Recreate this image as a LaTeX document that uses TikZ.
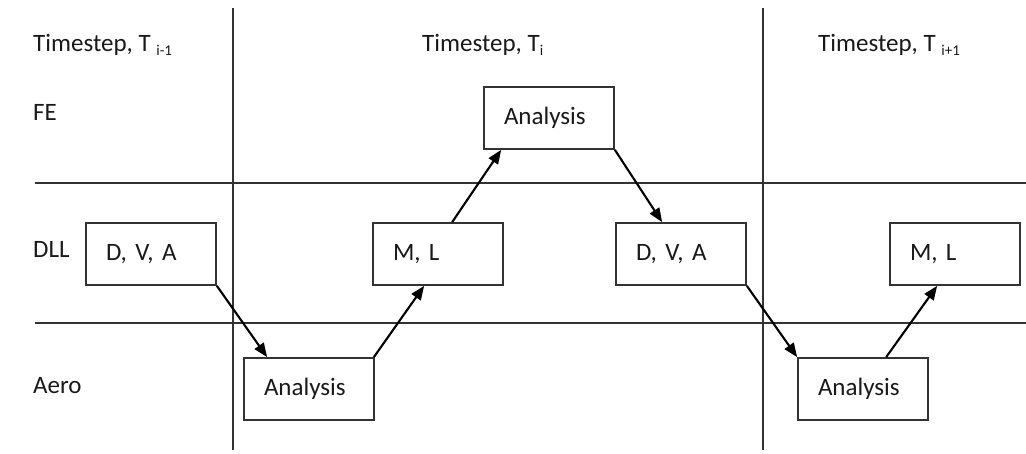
\documentclass[tikz,border=0pt]{standalone}
\usepackage{fontspec}
\setmainfont{Carlito}
\usetikzlibrary{arrows.meta,calc}
% lowered small index after the T of a timestep label
\newcommand\tidx[1]{\raisebox{-4pt}{\fontsize{15}{17}\selectfont #1}}
\begin{document}
\begin{tikzpicture}[x=1pt,y=-1pt,
  sepline/.style={line width=1.6pt, draw=black!80},
  stepbox/.style={draw=black!80, line width=1.7pt, fill=white,
    minimum width=130pt, minimum height=62pt, text width=90pt,
    inner xsep=20pt, inner ysep=0pt, align=left,
    font=\fontsize{25}{30}\selectfont, text=black!90},
  lbl/.style={anchor=base west, inner sep=0pt,
    font=\fontsize{25}{30}\selectfont, text=black!90},
  flow/.style={-{Triangle[length=14pt,width=11pt]}, line width=2.1pt, draw=black}
]
\useasboundingbox (0,0) rectangle (1026,454);

% column and row separators
\draw[sepline] (233,8) -- (233,450);
\draw[sepline] (763,8) -- (763,450);
\draw[sepline] (35,183) -- (1026,183);
\draw[sepline] (35,323) -- (1026,323);

% column headers
\node[lbl] (h1) at (33,52) {Timestep, T \tidx{i-1}};
\node[lbl] (h2) at (422,52) {Timestep, T\tidx{i}};
\node[lbl] (h3) at (818,52) {Timestep, T \tidx{i+1}};

% row labels
\node[lbl] (rfe)   at (33,121) {FE};
\node[lbl] (rdll)  at (33,258) {DLL};
\node[lbl] (raero) at (33,393) {Aero};

% process boxes
\node[stepbox] (fe)   at (549,118) {Analysis};
\node[stepbox] (dva1) at (151,254) {D, V, A};
\node[stepbox] (ml1)  at (438,254) {M, L};
\node[stepbox] (dva2) at (681,254) {D, V, A};
\node[stepbox] (ml2)  at (955,254) {M, L};
\node[stepbox] (an1)  at (309,389) {Analysis};
\node[stepbox] (an2)  at (863,389) {Analysis};

% data flow between solvers
\draw[flow] (dva1.south east) -- ([xshift=24pt]an1.north west);
\draw[flow] ([xshift=-1pt]an1.north east) -- ([xshift=52pt]ml1.south west);
\draw[flow] ([xshift=80pt]ml1.north west) -- ([xshift=18pt]fe.south west);
\draw[flow] (fe.south east) -- ([xshift=47pt]dva2.north west);
\draw[flow] (dva2.south east) -- (an2.north west);
\draw[flow] ([xshift=89pt]an2.north west) -- ([xshift=48pt]ml2.south west);
\end{tikzpicture}
\end{document}
